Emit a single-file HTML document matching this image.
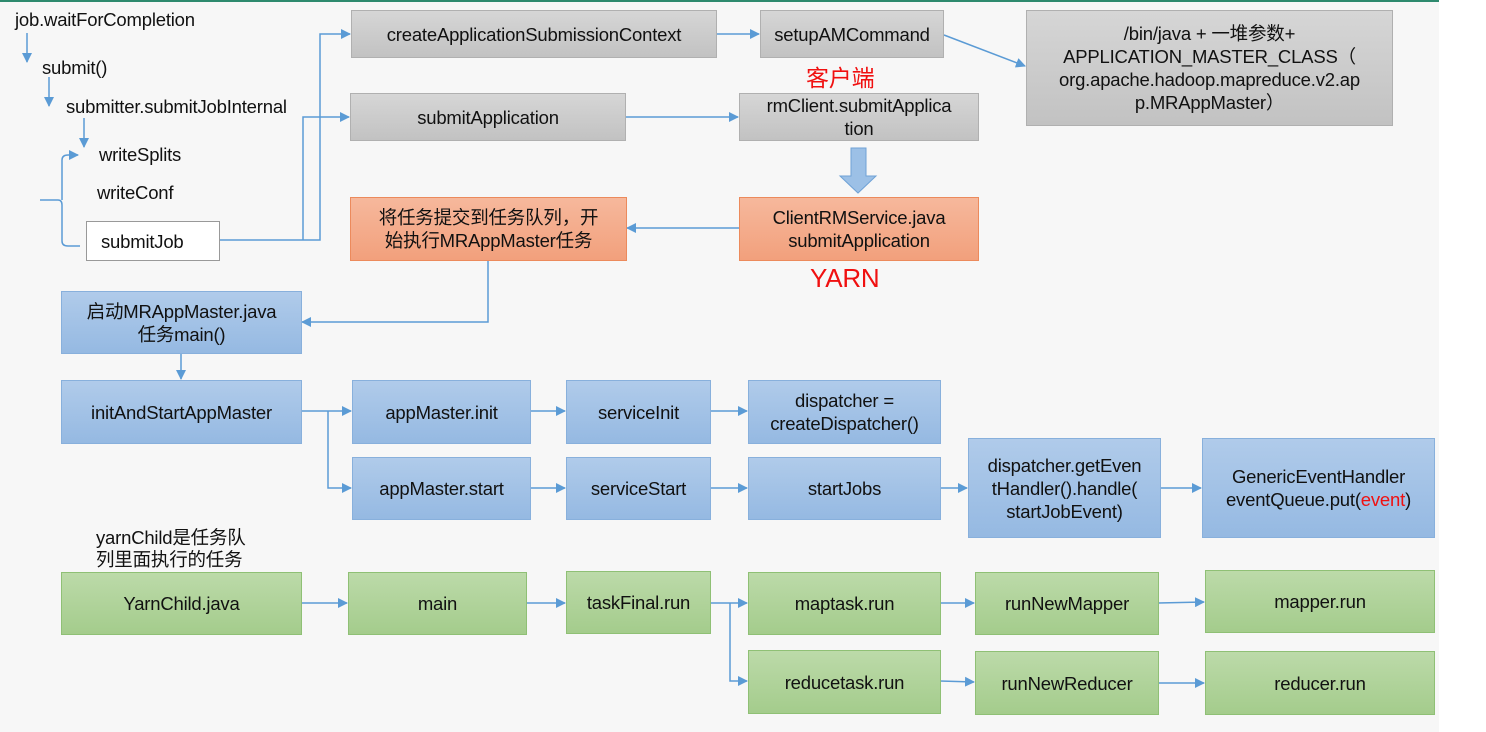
<!DOCTYPE html>
<html><head><meta charset="utf-8"><style>
body{margin:0;width:1486px;height:732px;background:#fff;position:relative;overflow:hidden;font-family:"Liberation Sans","Noto Sans CJK SC",sans-serif;}
#bg{position:absolute;left:0;top:0;width:1439px;height:732px;background:#f7f7f7;border-top:2px solid #2e8a6e;box-sizing:border-box;}
.b{position:absolute;display:flex;align-items:center;justify-content:center;text-align:center;font-size:18.5px;line-height:23px;color:#111;box-sizing:border-box;letter-spacing:-0.2px;}
.g{background:linear-gradient(#d6d6d6,#c2c2c2);border:1.5px solid #b0b0b0;}
.o{background:linear-gradient(#f6b89c,#f2a07c);border:1.5px solid #ec8a5c;}
.bl{background:linear-gradient(#b0cbea,#95b9e2);border:1.5px solid #88b0dc;}
.gr{background:linear-gradient(#bcdaa9,#a4cc8c);border:1.5px solid #8fc075;}
.t{position:absolute;font-size:18.5px;color:#111;white-space:nowrap;letter-spacing:-0.2px;}
.red{color:#f01010;}
svg{position:absolute;left:0;top:0;}
</style></head><body>
<div id="bg"></div>
<svg width="1486" height="732">
<defs><marker id="a" markerWidth="10" markerHeight="10" refX="9" refY="5" orient="auto" markerUnits="userSpaceOnUse"><path d="M0,0 L10,5 L0,10z" fill="#5b9bd5"/></marker></defs>
<g stroke="#5b9bd5" stroke-width="1.5" fill="none" marker-end="url(#a)">
<path d="M27,33 V62"/><path d="M49,77 V106"/><path d="M84,118 V147"/>
<path d="M62,200 V160 Q62,155 68,155 H78"/>
<path d="M219,240 H320 V34 H350"/>
<path d="M303,240 V117 H349"/>
<path d="M717,34 H759"/>
<path d="M944,35 L1025,66"/>
<path d="M625,117 H738"/>
<path d="M739,228 H627"/>
<path d="M488,261 V322 H302"/>
<path d="M181,353 V379"/>
<path d="M301,411 H351"/><path d="M328,411 V488 H351"/>
<path d="M530,411 H565"/><path d="M710,411 H747"/>
<path d="M530,488 H565"/><path d="M710,488 H747"/>
<path d="M940,488 H967"/><path d="M1160,488 H1201"/>
<path d="M301,603 H347"/><path d="M526,603 H565"/>
<path d="M710,603 H747"/><path d="M730,603 V681 H747"/>
<path d="M940,603 H974"/><path d="M1158,603 L1204,602"/>
<path d="M940,681 L974,682"/><path d="M1158,683 H1204"/>
</g>
<g stroke="#5b9bd5" stroke-width="1.5" fill="none">
<path d="M40,200 H58 Q62,200 62,205 V241 Q62,246 68,246 H80"/>
</g>
<path d="M851,148 H866 V176 H876 L858,193 L840,176 H851z" fill="#9cc0e6" stroke="#6fa2d6" stroke-width="1"/>
</svg>
<div class="t" style="left:15px;top:9px">job.waitForCompletion</div>
<div class="t" style="left:42px;top:57px">submit()</div>
<div class="t" style="left:66px;top:96px">submitter.submitJobInternal</div>
<div class="t" style="left:99px;top:144px">writeSplits</div>
<div class="t" style="left:97px;top:182px">writeConf</div>
<div class="b" style="left:86px;top:221px;width:134px;height:40px;background:#fff;border:1.5px solid #999;justify-content:flex-start;padding-left:14px">submitJob</div>

<div class="b g" style="left:351px;top:10px;width:366px;height:48px">createApplicationSubmissionContext</div>
<div class="b g" style="left:760px;top:10px;width:184px;height:48px">setupAMCommand</div>
<div class="b g" style="left:1026px;top:10px;width:367px;height:116px"><div>/bin/java + 一堆参数+<br>APPLICATION_MASTER_CLASS（<br>org.apache.hadoop.mapreduce.v2.ap<br>p.MRAppMaster）</div></div>
<div class="t red" style="left:806px;top:59px;font-size:23px">客户端</div>
<div class="b g" style="left:350px;top:93px;width:276px;height:48px">submitApplication</div>
<div class="b g" style="left:739px;top:93px;width:240px;height:48px"><div>rmClient.submitApplica<br>tion</div></div>
<div class="b o" style="left:350px;top:197px;width:277px;height:64px"><div>将任务提交到任务队列，开<br>始执行MRAppMaster任务</div></div>
<div class="b o" style="left:739px;top:197px;width:240px;height:64px"><div>ClientRMService.java<br>submitApplication</div></div>
<div class="t red" style="left:810px;top:263px;font-size:26px">YARN</div>

<div class="b bl" style="left:61px;top:291px;width:241px;height:63px"><div>启动MRAppMaster.java<br>任务main()</div></div>
<div class="b bl" style="left:61px;top:380px;width:241px;height:64px">initAndStartAppMaster</div>
<div class="b bl" style="left:352px;top:380px;width:179px;height:64px">appMaster.init</div>
<div class="b bl" style="left:566px;top:380px;width:145px;height:64px">serviceInit</div>
<div class="b bl" style="left:748px;top:380px;width:193px;height:64px"><div>dispatcher =<br>createDispatcher()</div></div>
<div class="b bl" style="left:352px;top:457px;width:179px;height:63px">appMaster.start</div>
<div class="b bl" style="left:566px;top:457px;width:145px;height:63px">serviceStart</div>
<div class="b bl" style="left:748px;top:457px;width:193px;height:63px">startJobs</div>
<div class="b bl" style="left:968px;top:438px;width:193px;height:100px"><div>dispatcher.getEven<br>tHandler().handle(<br>startJobEvent)</div></div>
<div class="b bl" style="left:1202px;top:438px;width:233px;height:100px"><div>GenericEventHandler<br>eventQueue.put(<span class="red">event</span>)</div></div>

<div class="t" style="left:96px;top:527px;line-height:22px">yarnChild是任务队<br>列里面执行的任务</div>
<div class="b gr" style="left:61px;top:572px;width:241px;height:63px">YarnChild.java</div>
<div class="b gr" style="left:348px;top:572px;width:179px;height:63px">main</div>
<div class="b gr" style="left:566px;top:571px;width:145px;height:63px">taskFinal.run</div>
<div class="b gr" style="left:748px;top:572px;width:193px;height:63px">maptask.run</div>
<div class="b gr" style="left:975px;top:572px;width:184px;height:63px">runNewMapper</div>
<div class="b gr" style="left:1205px;top:570px;width:230px;height:63px">mapper.run</div>
<div class="b gr" style="left:748px;top:650px;width:193px;height:64px">reducetask.run</div>
<div class="b gr" style="left:975px;top:651px;width:184px;height:64px">runNewReducer</div>
<div class="b gr" style="left:1205px;top:651px;width:230px;height:64px">reducer.run</div>
</body></html>
